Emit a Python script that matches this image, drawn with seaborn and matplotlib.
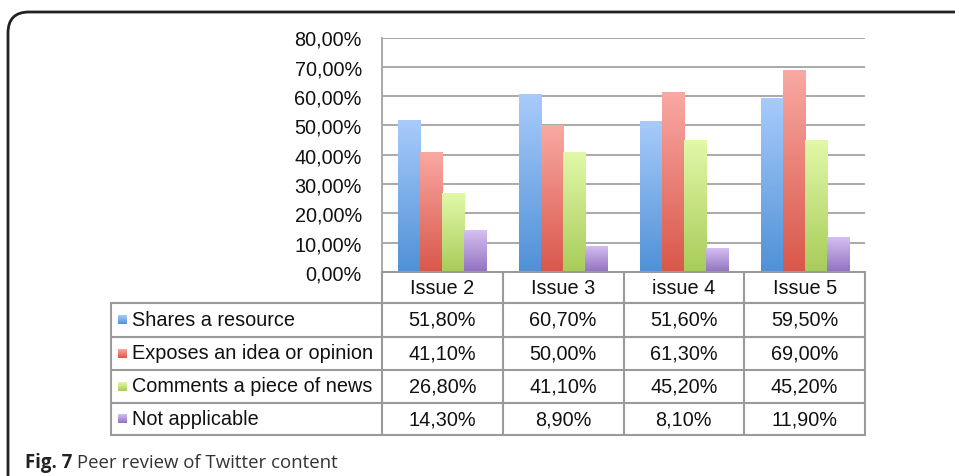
import numpy as np
import pandas as pd
import matplotlib
matplotlib.use("Agg")
import matplotlib.pyplot as plt
import seaborn as sns
from matplotlib.colors import LinearSegmentedColormap
from matplotlib.lines import Line2D
from matplotlib.patches import FancyBboxPatch

# ---------------- data ----------------
issues = ["Issue 2", "Issue 3", "issue 4", "Issue 5"]
series = ["Shares a resource", "Exposes an idea or opinion",
          "Comments a piece of news", "Not applicable"]
shares = [51.8, 60.7, 51.6, 59.5]
exposes = [41.1, 50.0, 61.3, 69.0]
comments = [26.8, 41.1, 45.2, 45.2]
not_applicable = [14.3, 8.9, 8.1, 11.9]
yticks = [0, 10, 20, 30, 40, 50, 60, 70, 80]
caption_bold = "Fig. 7"
caption_text = " Peer review of Twitter content"

values = [shares, exposes, comments, not_applicable]
df = pd.DataFrame([
    {"issue": iss, "series": s, "value": v}
    for s, vals in zip(series, values) for iss, v in zip(issues, vals)
])

top_colors = ["#a9cbfb", "#f9a9a3", "#e2f9a9", "#d4c0f2"]
bot_colors = ["#4f91d6", "#d9574a", "#a8cc5a", "#9171bf"]
mid_colors = ["#7aaee9", "#ea8077", "#c4e381", "#b299d9"]

W, H = 955, 477
sns.set_theme(style="white")
plt.rcParams["font.family"] = ["Liberation Sans", "DejaVu Sans"]

fig = plt.figure(figsize=(W / 100, H / 100), dpi=100)

def fx(x):
    return x / W

def fy(y):
    return 1 - y / H

L, R, T, B = 382, 865, 38.5, 273
ax = fig.add_axes([fx(L), fy(B), fx(R) - fx(L), fy(T) - fy(B)])

sns.barplot(data=df, x="issue", y="value", hue="series", order=issues,
            hue_order=series, palette=mid_colors, width=0.73, gap=0,
            saturation=1, legend=False, ax=ax, edgecolor="none", zorder=3)

grad = np.linspace(0, 1, 256).reshape(-1, 1)
cmaps = [LinearSegmentedColormap.from_list(f"c{i}", [bot_colors[i], top_colors[i]])
         for i in range(4)]
patches = [p for p in ax.patches]
for idx, p in enumerate(patches):
    si = idx // len(issues)
    x0, w, h = p.get_x(), p.get_width(), p.get_height()
    im = ax.imshow(grad, extent=[x0, x0 + w, 0, h], origin="lower",
                   aspect="auto", cmap=cmaps[si], zorder=4)
    im.set_clip_path(p)

fs = 14.3
ax.set_xlim(-0.5, len(issues) - 0.5)
ax.set_ylim(0, 80)
ax.set_yticks(yticks)
ax.set_yticklabels([f"{t:.2f}".replace(".", ",") + "%" for t in yticks],
                   fontsize=fs, color="#111111")
ax.tick_params(axis="y", length=0, pad=14.5)
ax.set_xticks([])
ax.set_xlabel("")
ax.set_ylabel("")
for t in yticks:
    ax.axhline(t, color="#a3a3a3", lw=1.3, zorder=1)
for s in ["top", "right", "bottom"]:
    ax.spines[s].set_visible(False)
ax.spines["left"].set_color("#a3a3a3")
ax.spines["left"].set_linewidth(1.3)
ax.set_facecolor("none")

# ---------------- data table ----------------
col_edges = [L + (R - L) * i / len(issues) for i in range(len(issues) + 1)]
tab_left = 111
row_edges = [273, 303.5, 337.5, 370.5, 403.5, 436]
lc = "#9a9a9a"
lw = 1.5

def hline(y, x0, x1):
    fig.add_artist(Line2D([fx(x0), fx(x1)], [fy(y), fy(y)], color=lc, lw=lw,
                          transform=fig.transFigure))

def vline(x, y0, y1):
    fig.add_artist(Line2D([fx(x), fx(x)], [fy(y0), fy(y1)], color=lc, lw=lw,
                          transform=fig.transFigure))

hline(row_edges[0], L, R)
for y in row_edges[1:]:
    hline(y, tab_left, R)
for x in col_edges:
    vline(x, row_edges[0], row_edges[-1])
vline(tab_left, row_edges[1], row_edges[-1])

for j, iss in enumerate(issues):
    cx = (col_edges[j] + col_edges[j + 1]) / 2
    cy = (row_edges[0] + row_edges[1]) / 2
    fig.text(fx(cx), fy(cy), iss, ha="center", va="center", fontsize=fs,
             color="#111111")

for i, (s, vals) in enumerate(zip(series, values)):
    cy = (row_edges[i + 1] + row_edges[i + 2]) / 2
    kax = fig.add_axes([fx(118), fy(cy + 4.5), 8.5 / W, 9 / H])
    kax.imshow(grad, origin="lower", aspect="auto", cmap=cmaps[i])
    kax.axis("off")
    fig.text(fx(132), fy(cy), s, ha="left", va="center", fontsize=fs,
             color="#111111")
    for j, v in enumerate(vals):
        cx = (col_edges[j] + col_edges[j + 1]) / 2
        fig.text(fx(cx), fy(cy), f"{v:.2f}".replace(".", ",") + "%",
                 ha="center", va="center", fontsize=fs, color="#111111")

# ---------------- frame and caption ----------------
frame = FancyBboxPatch((fx(8), fy(H + 40)), fx(W + 40) - fx(8), fy(13) - fy(H + 40),
                       boxstyle="round,pad=0,rounding_size=0.022",
                       transform=fig.transFigure, fill=False,
                       edgecolor="#222222", lw=2, mutation_aspect=W / H)
fig.add_artist(frame)

cfs = 13.4
t1 = fig.text(fx(25), fy(463), caption_bold, ha="left", va="center",
              fontsize=cfs, fontweight="bold", family=["Open Sans", "DejaVu Sans"],
              color="#222222")
fig.canvas.draw()
bb = t1.get_window_extent()
fig.text(bb.x1 / W, fy(463), caption_text, ha="left", va="center",
         fontsize=cfs, family=["Open Sans", "DejaVu Sans"], color="#333333")

fig.savefig("out.png", dpi=100)
